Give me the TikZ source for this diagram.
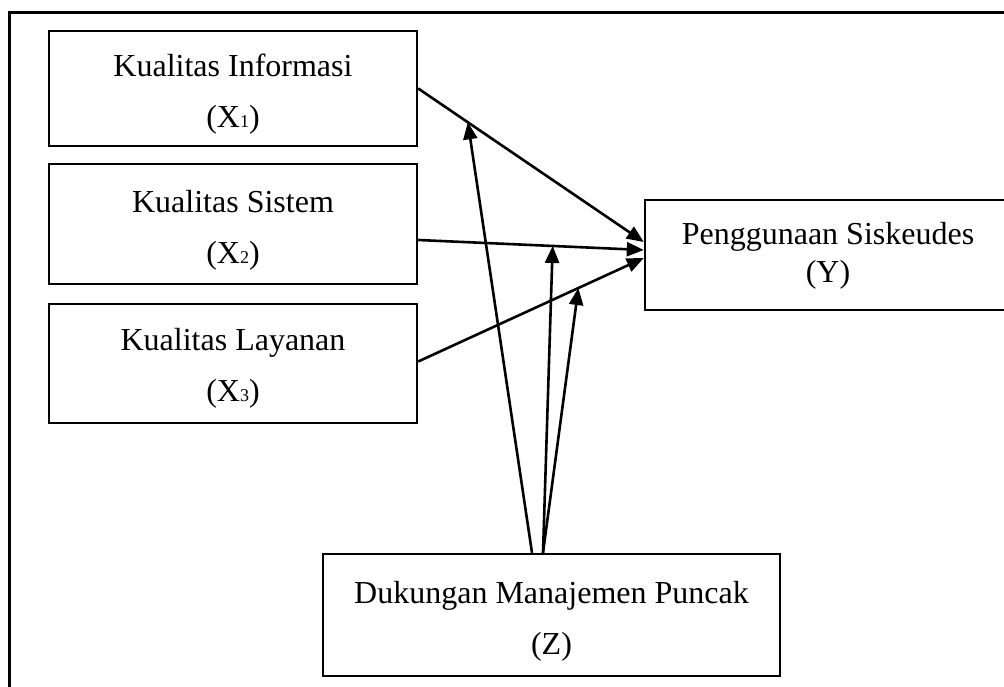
\documentclass[tikz,border=0pt]{standalone}
\usepackage{fontspec}
\setmainfont{Liberation Serif}
\usetikzlibrary{arrows.meta,calc}
\newcommand{\subdig}[1]{{\fontsize{18}{18}\selectfont #1}}
\begin{document}
\begin{tikzpicture}[x=1pt,y=-1pt,
  boxnode/.style={draw,line width=2.4pt,inner sep=0pt},
  txt/.style={inner sep=0pt,align=center,font=\fontsize{32}{51}\selectfont},
  conn/.style={line width=2.6pt,-{Triangle[length=17pt,width=14pt]}}]
\useasboundingbox (0,0) rectangle (1004,686);
\clip (0,0) rectangle (1004,686);
\draw[line width=3pt] (9,12) rectangle (1030,720);
\node[boxnode,minimum width=368pt,minimum height=115pt] (x1) at (233,88.5) {};
\node[txt] (x1t) at ([yshift=-6pt]x1.center) {Kualitas Informasi\\(X\subdig{1})};
\node[boxnode,minimum width=368pt,minimum height=120pt] (x2) at (233,224) {};
\node[txt] (x2t) at ([yshift=-6pt]x2.center) {Kualitas Sistem\\(X\subdig{2})};
\node[boxnode,minimum width=368pt,minimum height=119pt] (x3) at (233,363.5) {};
\node[txt] (x3t) at ([yshift=-5pt]x3.center) {Kualitas Layanan\\(X\subdig{3})};
\node[boxnode,minimum width=380pt,minimum height=110pt] (y) at (835,255) {};
\node[txt,font=\fontsize{32}{38}\selectfont] (yt) at ([xshift=-7pt,yshift=-1pt]y.center) {Penggunaan Siskeudes\\(Y)};
\node[boxnode,minimum width=457pt,minimum height=122pt] (z) at (551.5,615) {};
\node[txt] (zt) at ([yshift=-6pt]z.center) {Dukungan Manajemen Puncak\\(Z)};
\draw[conn] (x1.east) -- coordinate[pos=0.22] (m1) ([yshift=13pt]y.west);
\draw[conn] ([yshift=-16pt]x2.east) -- coordinate[pos=0.596] (m2) ([yshift=5pt]y.west);
\draw[conn] ([yshift=2pt]x3.east) -- coordinate[pos=0.71] (m3) ([yshift=-3pt]y.west);
\draw[conn] ([xshift=-19.5pt]z.north) -- (m1);
\draw[conn] ([xshift=-8.5pt]z.north) -- (m2);
\draw[conn] ([xshift=-8.5pt]z.north) -- (m3);
\end{tikzpicture}
\end{document}
